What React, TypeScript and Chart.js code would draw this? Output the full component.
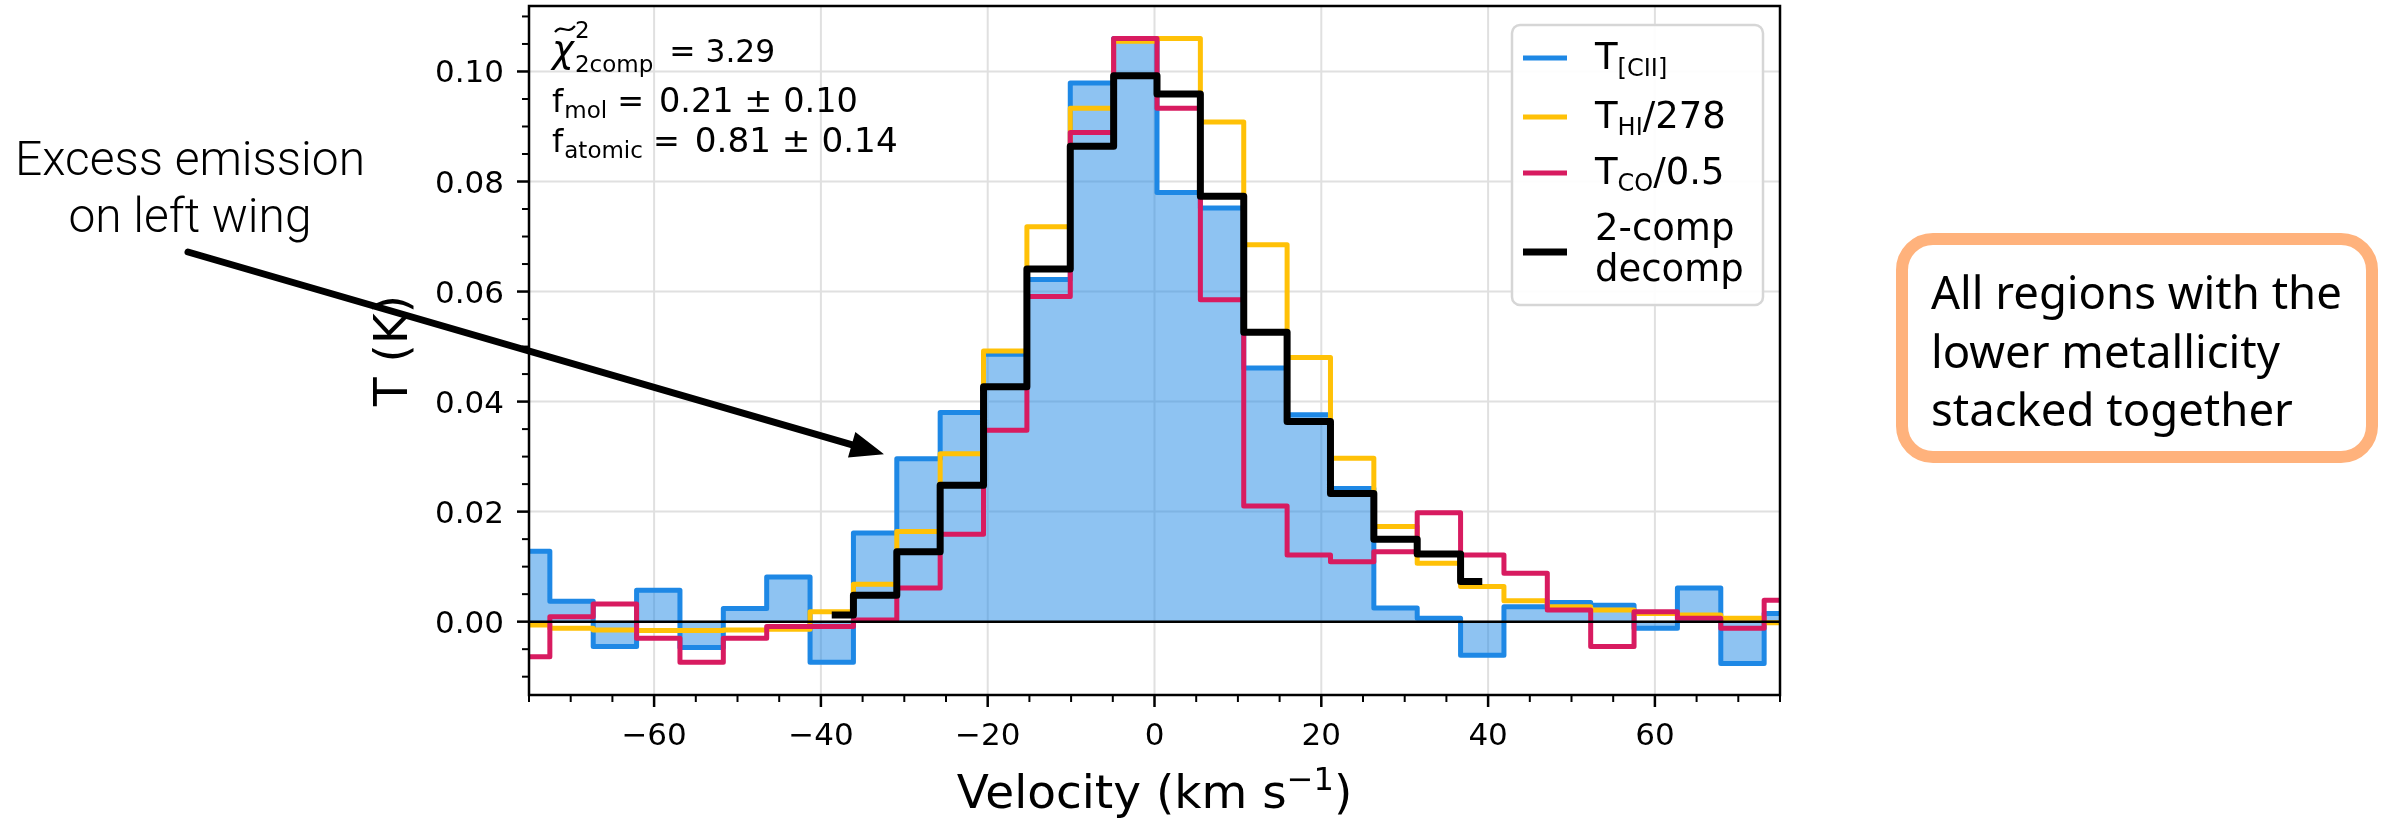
import React, { useEffect, useRef } from "react";
import { Chart, registerables } from "chart.js";

Chart.register(...registerables);

// ---------------- data ----------------
const velocity = [
  -75.1, -69.9, -64.7, -59.5, -54.3, -49.1, -43.9, -38.7, -33.5, -28.3,
  -23.1, -17.9, -12.7, -7.5, -2.3, 2.9, 8.1, 13.3, 18.5, 23.7,
  28.9, 34.1, 39.3, 44.5, 49.7, 54.9, 60.1, 65.3, 70.5, 75.7,
];
const tCII = [
  0.0128, 0.0037, -0.0045, 0.0057, -0.0047, 0.0024, 0.0081, -0.0074, 0.0161, 0.0296,
  0.038, 0.0486, 0.0622, 0.0979, 0.106, 0.078, 0.0752, 0.0461, 0.0376, 0.0242,
  0.0025, 0.0006, -0.0061, 0.0027, 0.0035, 0.003, -0.0012, 0.0061, -0.0076, 0.0015,
];
const tHI = [
  -0.0006, -0.0012, -0.0015, -0.0016, -0.0016, -0.0015, -0.0014, 0.0018, 0.0068, 0.0164,
  0.0305, 0.0492, 0.0718, 0.0933, 0.1055, 0.106, 0.0908, 0.0685, 0.048, 0.0297,
  0.0173, 0.0106, 0.0064, 0.0038, 0.0027, 0.0021, 0.0015, 0.0012, 0.0006, -0.0002,
];
const tCO = [
  -0.0064, 0.0009, 0.0032, -0.003, -0.0074, -0.003, -0.0009, -0.0009, 0.0003, 0.0061,
  0.0159, 0.0348, 0.0591, 0.0889, 0.106, 0.0933, 0.0585, 0.021, 0.0121, 0.0109,
  0.0127, 0.0198, 0.0121, 0.0088, 0.0021, -0.0045, 0.0018, 0.0006, -0.0012, 0.0039,
];
const decompVelocity = [
  -38.7, -33.5, -28.3, -23.1, -17.9, -12.7, -7.5, -2.3, 2.9, 8.1, 13.3, 18.5, 23.7, 28.9, 34.1, 39.3,
];
const tDecomp = [
  0.0012, 0.0048, 0.0127, 0.0248, 0.0427, 0.0641, 0.0864, 0.0992, 0.0959, 0.0773,
  0.0526, 0.0364, 0.0233, 0.015, 0.0123, 0.0073,
];

const xTicks = [-60, -40, -20, 0, 20, 40, 60];
const yTicks = [0.0, 0.02, 0.04, 0.06, 0.08, 0.1];
const xMinorStep = 5;
const yMinorStep = 0.005;

const statLines = [
  { sym: "f", sub: "mol", value: "0.21 ± 0.10" },
  { sym: "f", sub: "atomic", value: "0.81 ± 0.14" },
];
const chiValue = "3.29";

const legendItems = [
  { main: "T", sub: "[CII]", tail: "" },
  { main: "T", sub: "HI", tail: "/278" },
  { main: "T", sub: "CO", tail: "/0.5" },
  { lines: ["2-comp", "decomp"] },
];

const noteLeft = ["Excess emission", "on left wing"];
const noteRight = ["All regions with the", "lower metallicity", "stacked together"];

// ---------------- styling ----------------
const BLUE = "#1E88E5";
const YELLOW = "#FFC107";
const RED = "#D81B60";
const BLACK = "#000000";
const DJ = '"DejaVu Sans", "Liberation Sans", sans-serif';

type Seg = { t: string; size: number; dy?: number; gap?: number; style?: string; family?: string };

function drawRich(ctx: CanvasRenderingContext2D, x: number, y: number, segs: Seg[]) {
  let cx = x;
  for (const s of segs) {
    ctx.font = `${s.style ?? ""} ${s.size}px ${s.family ?? DJ}`;
    if (s.gap) cx += s.gap;
    ctx.fillText(s.t, cx, y + (s.dy ?? 0));
    cx += ctx.measureText(s.t).width;
  }
  return cx;
}
function richWidth(ctx: CanvasRenderingContext2D, segs: Seg[]) {
  let w = 0;
  for (const s of segs) {
    ctx.font = `${s.style ?? ""} ${s.size}px ${s.family ?? DJ}`;
    w += (s.gap ?? 0) + ctx.measureText(s.t).width;
  }
  return w;
}
function fitSize(ctx: CanvasRenderingContext2D, text: string, family: string, weight: string, target: number) {
  ctx.font = `${weight} 100px ${family}`;
  return (100 * target) / ctx.measureText(text).width;
}

const decor = {
  id: "decor",
  beforeDatasetsDraw(chart: any) {
    const { ctx, chartArea: a, scales } = chart;
    const x = scales.x;
    const y = scales.y;
    ctx.save();
    ctx.strokeStyle = "#e0e0e0";
    ctx.lineWidth = 2;
    for (const v of xTicks) {
      const px = x.getPixelForValue(v);
      ctx.beginPath();
      ctx.moveTo(px, a.top);
      ctx.lineTo(px, a.bottom);
      ctx.stroke();
    }
    for (const v of yTicks) {
      const py = y.getPixelForValue(v);
      ctx.beginPath();
      ctx.moveTo(a.left, py);
      ctx.lineTo(a.right, py);
      ctx.stroke();
    }
    ctx.restore();
  },
  afterDatasetsDraw(chart: any) {
    const { ctx, chartArea: a, scales } = chart;
    const py = scales.y.getPixelForValue(0);
    ctx.save();
    ctx.strokeStyle = "#000";
    ctx.lineWidth = 2.5;
    ctx.beginPath();
    ctx.moveTo(a.left, py);
    ctx.lineTo(a.right, py);
    ctx.stroke();
    ctx.restore();
  },
  afterDraw(chart: any) {
    const { ctx, chartArea: a, scales } = chart;
    const x = scales.x;
    const y = scales.y;
    ctx.save();
    ctx.fillStyle = "#000";
    ctx.strokeStyle = "#000";

    // frame
    ctx.lineWidth = 2.5;
    ctx.strokeRect(a.left, a.top, a.right - a.left, a.bottom - a.top);

    // ticks
    for (let v = Math.ceil(x.min / xMinorStep) * xMinorStep; v <= x.max + 1e-9; v += xMinorStep) {
      const major = xTicks.some((t) => Math.abs(t - v) < 1e-6);
      const px = x.getPixelForValue(v);
      ctx.lineWidth = major ? 2.5 : 2;
      ctx.beginPath();
      ctx.moveTo(px, a.bottom);
      ctx.lineTo(px, a.bottom + (major ? 12 : 7));
      ctx.stroke();
    }
    for (let k = Math.ceil(y.min / yMinorStep); k * yMinorStep <= y.max + 1e-9; k++) {
      const v = k * yMinorStep;
      const major = yTicks.some((t) => Math.abs(t - v) < 1e-9);
      const py = y.getPixelForValue(v);
      ctx.lineWidth = major ? 2.5 : 2;
      ctx.beginPath();
      ctx.moveTo(a.left, py);
      ctx.lineTo(a.left - (major ? 12 : 7), py);
      ctx.stroke();
    }

    // tick labels
    ctx.font = `31px ${DJ}`;
    ctx.textAlign = "center";
    ctx.textBaseline = "alphabetic";
    for (const v of xTicks) {
      const label = v < 0 ? "\u2212" + Math.abs(v) : String(v);
      ctx.fillText(label, x.getPixelForValue(v), a.bottom + 50);
    }
    ctx.textAlign = "right";
    for (const v of yTicks) {
      ctx.fillText(v.toFixed(2), a.left - 25, y.getPixelForValue(v) + 11);
    }

    // axis titles
    ctx.textAlign = "left";
    const xt: Seg[] = [
      { t: "Velocity (km s", size: 47 },
      { t: "\u22121", size: 32, dy: -18 },
      { t: ")", size: 47 },
    ];
    const xtw = richWidth(ctx, xt);
    drawRich(ctx, (a.left + a.right) / 2 - xtw / 2, a.bottom + 113, xt);
    ctx.save();
    ctx.translate(a.left - 122, (a.top + a.bottom) / 2);
    ctx.rotate(-Math.PI / 2);
    ctx.font = `47px ${DJ}`;
    ctx.textAlign = "center";
    ctx.fillText("T (K)", 0, 0);
    ctx.restore();

    // stats text
    ctx.textAlign = "left";
    const sx = a.left + 23;
    ctx.font = `italic 37px ${DJ}`;
    const chiW = ctx.measureText("\u03c7").width;
    ctx.fillText("\u03c7", sx, 62);
    // tilde over chi
    ctx.lineWidth = 2.2;
    ctx.beginPath();
    const tx0 = sx + 3, tx1 = sx + chiW + 1, ty = 29;
    ctx.moveTo(tx0, ty + 3);
    ctx.bezierCurveTo(tx0 + (tx1 - tx0) * 0.35, ty - 6, tx0 + (tx1 - tx0) * 0.6, ty + 7, tx1, ty - 3);
    ctx.stroke();
    const scx = sx + chiW + 1;
    ctx.font = `23px ${DJ}`;
    ctx.fillText("2", scx, 62 - 24);
    ctx.fillText("2comp", scx, 72);
    const subEnd = scx + ctx.measureText("2comp").width;
    const chiSize = fitSize(ctx, "= " + chiValue, DJ, "400", 106);
    ctx.font = `${chiSize}px ${DJ}`;
    ctx.fillText("= " + chiValue, subEnd + 16, 62);
    const baseY = [112, 152];
    const valueW = [199, 203];
    statLines.forEach((s, i) => {
      const end = drawRich(ctx, sx, baseY[i], [
        { t: s.sym, size: 32 },
        { t: s.sub, size: 23, dy: 6, gap: 1 },
      ]);
      ctx.font = `32px ${DJ}`;
      const eqEnd = end + 10;
      ctx.fillText("=", eqEnd, baseY[i]);
      const after = eqEnd + ctx.measureText("=").width + 15;
      const vs = fitSize(ctx, s.value, DJ, "400", valueW[i]);
      ctx.font = `${vs}px ${DJ}`;
      ctx.fillText(s.value, after, baseY[i]);
    });

    // legend
    const lx = 1512, ly = 25, lw = 251, lh = 280;
    ctx.beginPath();
    ctx.roundRect(lx, ly, lw, lh, 8);
    ctx.fillStyle = "rgba(255,255,255,0.92)";
    ctx.fill();
    ctx.strokeStyle = "#d6d6d6";
    ctx.lineWidth = 2.5;
    ctx.stroke();
    const ds = chart.data.datasets;
    const handleY = [58, 117, 173, 252];
    legendItems.forEach((it: any, i: number) => {
      const d = ds[i];
      ctx.strokeStyle = d.borderColor;
      ctx.lineWidth = d.borderWidth;
      ctx.beginPath();
      ctx.moveTo(lx + 11, handleY[i]);
      ctx.lineTo(lx + 55, handleY[i]);
      ctx.stroke();
      ctx.fillStyle = "#000";
      if (it.lines) {
        ctx.font = `37px ${DJ}`;
        ctx.fillText(it.lines[0], lx + 83, 240);
        ctx.fillText(it.lines[1], lx + 83, 281);
      } else {
        drawRich(ctx, lx + 83, handleY[i] + 11, [
          { t: it.main, size: 37 },
          { t: it.sub, size: 24, dy: 7 },
          { t: it.tail, size: 37 },
        ]);
      }
    });

    // left annotation
    ctx.fillStyle = "#000";
    ctx.textAlign = "center";
    const fam = 'Roboto, "Open Sans", sans-serif';
    const ls = fitSize(ctx, noteLeft[0], fam, "300", 350);
    ctx.font = `300 ${ls}px ${fam}`;
    ctx.fillText(noteLeft[0], 190, 175);
    ctx.fillText(noteLeft[1], 190, 232);

    // arrow
    const x0 = 188, y0 = 252, x1 = 880, y1 = 453;
    const ang = Math.atan2(y1 - y0, x1 - x0);
    const hl = 28, hw = 11;
    const bx = x1 - hl * Math.cos(ang), by = y1 - hl * Math.sin(ang);
    ctx.strokeStyle = "#000";
    ctx.lineWidth = 7;
    ctx.lineCap = "round";
    ctx.beginPath();
    ctx.moveTo(x0, y0);
    ctx.lineTo(bx, by);
    ctx.stroke();
    ctx.lineCap = "butt";
    ctx.beginPath();
    ctx.moveTo(x1, y1);
    ctx.lineTo(bx + hw * Math.sin(ang), by - hw * Math.cos(ang));
    ctx.lineTo(bx - hw * Math.sin(ang), by + hw * Math.cos(ang));
    ctx.closePath();
    ctx.fill();
    ctx.lineWidth = 3;
    ctx.lineJoin = "miter";
    ctx.stroke();

    // right note box
    ctx.beginPath();
    ctx.roundRect(1902, 239, 470, 218, 31);
    ctx.strokeStyle = "#FFB27C";
    ctx.lineWidth = 12;
    ctx.stroke();
    ctx.fillStyle = "#000";
    ctx.textAlign = "left";
    const rfam = '"Noto Sans", "Open Sans", sans-serif';
    const rs = fitSize(ctx, noteRight[0], rfam, "400", 411);
    ctx.font = `400 ${rs}px ${rfam}`;
    const rb = [309, 368, 426];
    noteRight.forEach((t, i) => ctx.fillText(t, 1931, rb[i]));

    ctx.restore();
  },
};

export default function App() {
  const ref = useRef<HTMLCanvasElement | null>(null);
  useEffect(() => {
    const canvas = ref.current;
    if (!canvas) return;
    const pts = (xs: number[], ys: number[]) => xs.map((v, i) => ({ x: v, y: ys[i] }));
    const common = { stepped: "middle" as const, pointRadius: 0, borderJoinStyle: "round" as const, clip: 0, tension: 0 };
    const chart = new Chart(canvas, {
      type: "line",
      data: {
        datasets: [
          {
            label: "T[CII]",
            data: pts(velocity, tCII),
            borderColor: BLUE,
            borderWidth: 5,
            backgroundColor: "rgba(30,136,229,0.5)",
            fill: "origin",
            order: 4,
            ...common,
          },
          { label: "THI/278", data: pts(velocity, tHI), borderColor: YELLOW, borderWidth: 5, fill: false, order: 3, ...common },
          { label: "TCO/0.5", data: pts(velocity, tCO), borderColor: RED, borderWidth: 5, fill: false, order: 2, ...common },
          { label: "2-comp decomp", data: pts(decompVelocity, tDecomp), borderColor: BLACK, borderWidth: 7, fill: false, order: 1, ...common },
        ],
      },
      options: {
        responsive: false,
        maintainAspectRatio: false,
        animation: false,
        devicePixelRatio: 1,
        layout: { padding: { left: 529, right: 2382 - 1780, top: 6, bottom: 821 - 695 } },
        plugins: { legend: { display: false }, tooltip: { enabled: false } },
        scales: {
          x: { type: "linear", min: -75, max: 75, display: false },
          y: { type: "linear", min: -0.01333, max: 0.1119, display: false },
        },
      },
      plugins: [decor],
    });
    return () => chart.destroy();
  }, []);
  return (
    <div style={{ position: "absolute", left: 0, top: 0, width: 2382, height: 821, background: "#fff" }}>
      <canvas ref={ref} width={2382} height={821} style={{ width: 2382, height: 821, display: "block" }} />
    </div>
  );
}
